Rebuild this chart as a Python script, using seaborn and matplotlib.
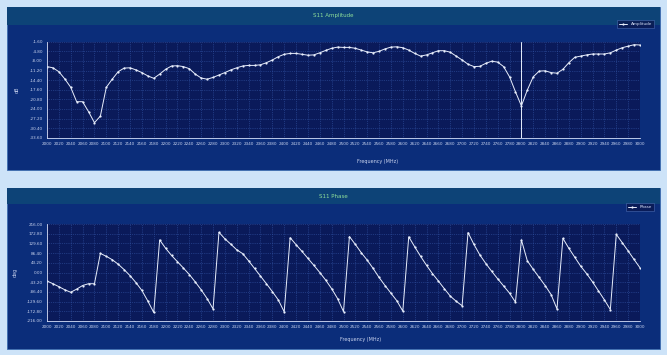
import numpy as np
import pandas as pd
import seaborn as sns
from matplotlib import pyplot as plt
from matplotlib.patches import Rectangle

# * frequency axis (MHz), one point every 10 MHz
freq = list(range(2000, 3001, 10))

# * S11 amplitude (dB)
amplitude = [
    -9.9, -10.3, -11.6, -14.0, -16.8, -21.6, -21.6, -24.9, -28.6, -26.4,
    -16.8, -14.1, -11.6, -10.4, -10.3, -11.0, -11.9, -13.0, -13.8, -12.4,
    -10.8, -9.7, -9.6, -9.9, -10.6, -12.4, -13.7, -14.1, -13.5, -12.7,
    -11.9, -11.0, -10.3, -9.7, -9.5, -9.5, -9.3, -8.6, -7.7, -6.6,
    -5.8, -5.5, -5.5, -5.8, -6.1, -6.0, -5.3, -4.5, -3.8, -3.4,
    -3.5, -3.5, -3.8, -4.4, -5.0, -5.3, -4.8, -4.0, -3.4, -3.3,
    -3.6, -4.4, -5.5, -6.4, -6.0, -5.3, -4.6, -4.6, -5.1, -6.4,
    -7.7, -9.1, -9.9, -9.8, -8.8, -8.1, -8.4, -9.9, -13.3, -18.3,
    -23.0, -17.7, -13.3, -11.4, -11.3, -11.9, -12.1, -10.8, -8.6, -6.8,
    -6.4, -6.0, -5.7, -5.7, -5.7, -5.3, -4.4, -3.6, -3.1, -2.6, -2.7,
]

# * S11 phase (deg)
phase = [
    -38, -50, -63, -77, -88, -74, -58, -50, -50,
    85, 72, 57, 37, 13, -14, -45, -80, -127, -178,
    145, 108, 76, 48, 20, -9, -42, -77, -116, -162,
    179, 150, 126, 101, 84, 52, 18, -16, -50, -85, -122, -175,
    155, 124, 94, 63, 32, 0, -34, -72, -116, -174,
    160, 125, 88, 55, 18, -22, -58, -92, -126, -172,
    159, 115, 72, 32, -5, -38, -72, -105, -128, -148,
    178, 125, 78, 40, 5, -28, -60, -92, -132,
    145, 52, 14, -22, -58, -98, -162,
    152, 108, 68, 28, -5, -42, -82, -122, -165,
    170, 133, 96, 58, 21,
]

amp_ticks = [-1.6 - 3.2 * i for i in range(11)]
phase_ticks = [216.0 - 43.2 * i for i in range(11)]
freq_ticks = list(range(2000, 3001, 20))
marker_freq = 2800

df = pd.DataFrame({"freq": freq, "Amplitude": amplitude, "Phase": phase})

sns.set_theme(style="dark")
plt.rcParams["font.family"] = ["DejaVu Sans"]

W, H = 667, 355
fig = plt.figure(figsize=(W / 100, H / 100), dpi=100, facecolor="#cde3f8")


def px_rect(x0, y0, x1, y1):
    # * pixel box (top-left origin) -> figure fraction [l, b, w, h]
    return [x0 / W, 1 - y1 / H, (x1 - x0) / W, (y1 - y0) / H]


def panel(y0, y1, head):
    l, b, w, h = px_rect(7, y0, 660, y1)
    fig.patches.append(Rectangle((l, b), w, h, transform=fig.transFigure,
                                 facecolor="#0b2d7a", edgecolor="#3d6db0", lw=0.6, zorder=-2))
    l, b, w, h = px_rect(7, y0, 660, head)
    fig.patches.append(Rectangle((l, b), w, h, transform=fig.transFigure,
                                 facecolor="#0d4377", edgecolor="none", zorder=-1))


def draw(ax, col, ticks, ylabel, title, title_y, xlabel_pos, leg_pos):
    ax.set_facecolor("#0a1a5a")
    sns.lineplot(data=df, x="freq", y=col, ax=ax, color="#e8eefc", lw=0.7,
                 marker="o", markersize=1.6, markeredgewidth=0, label=col)
    ax.set_xlim(2000, 3000)
    ax.set_ylim(ticks[-1], ticks[0])
    ax.set_xticks(freq_ticks)
    ax.set_xticklabels([str(f) for f in freq_ticks])
    ax.set_yticks(ticks)
    ax.set_yticklabels([f"{t:.2f}" for t in ticks])
    ax.tick_params(colors="#c9d3ee", labelsize=3.0, length=1.5, width=0.4, pad=1.5)
    ax.grid(True, color="#3456a8", ls=":", lw=0.5)
    for s in ["top", "right"]:
        ax.spines[s].set_visible(False)
    for s in ["left", "bottom"]:
        ax.spines[s].set_color("#d8e0f8")
        ax.spines[s].set_linewidth(0.6)
    ax.set_xlabel("")
    ax.set_ylabel(ylabel, color="#c9d3ee", fontsize=3.5, labelpad=7)
    fig.text(333 / W, 1 - title_y / H, title, color="#8fe09a", fontsize=4, ha="center", va="center")
    fig.text(xlabel_pos[0] / W, 1 - xlabel_pos[1] / H, "Frequency (MHz)", color="#c9d3ee",
             fontsize=3.5, ha="center", va="center")
    leg = ax.legend(loc="upper right", bbox_to_anchor=(leg_pos[0] / W, 1 - leg_pos[1] / H),
                    bbox_transform=fig.transFigure, fontsize=3, frameon=True,
                    handlelength=2, borderpad=0.5, fancybox=False)
    leg.get_frame().set_facecolor("#0a1850")
    leg.get_frame().set_edgecolor("#5a7cc4")
    leg.get_frame().set_linewidth(0.4)
    for t in leg.get_texts():
        t.set_color("#d8e0f8")


# * top panel: amplitude
panel(7, 170, 25)
ax1 = fig.add_axes(px_rect(47, 41.7, 640, 137.7))
draw(ax1, "Amplitude", amp_ticks, "dB", "S11 Amplitude", 15, (378, 161), (656, 18))
ax1.axvline(marker_freq, color="#e8eefc", lw=0.7)

# * bottom panel: phase
panel(188, 349, 204)
ax2 = fig.add_axes(px_rect(47, 224, 640, 321))
draw(ax2, "Phase", phase_ticks, "deg", "S11 Phase", 196, (361, 339), (656, 201))

fig.savefig("out.png", dpi=100, facecolor=fig.get_facecolor())
